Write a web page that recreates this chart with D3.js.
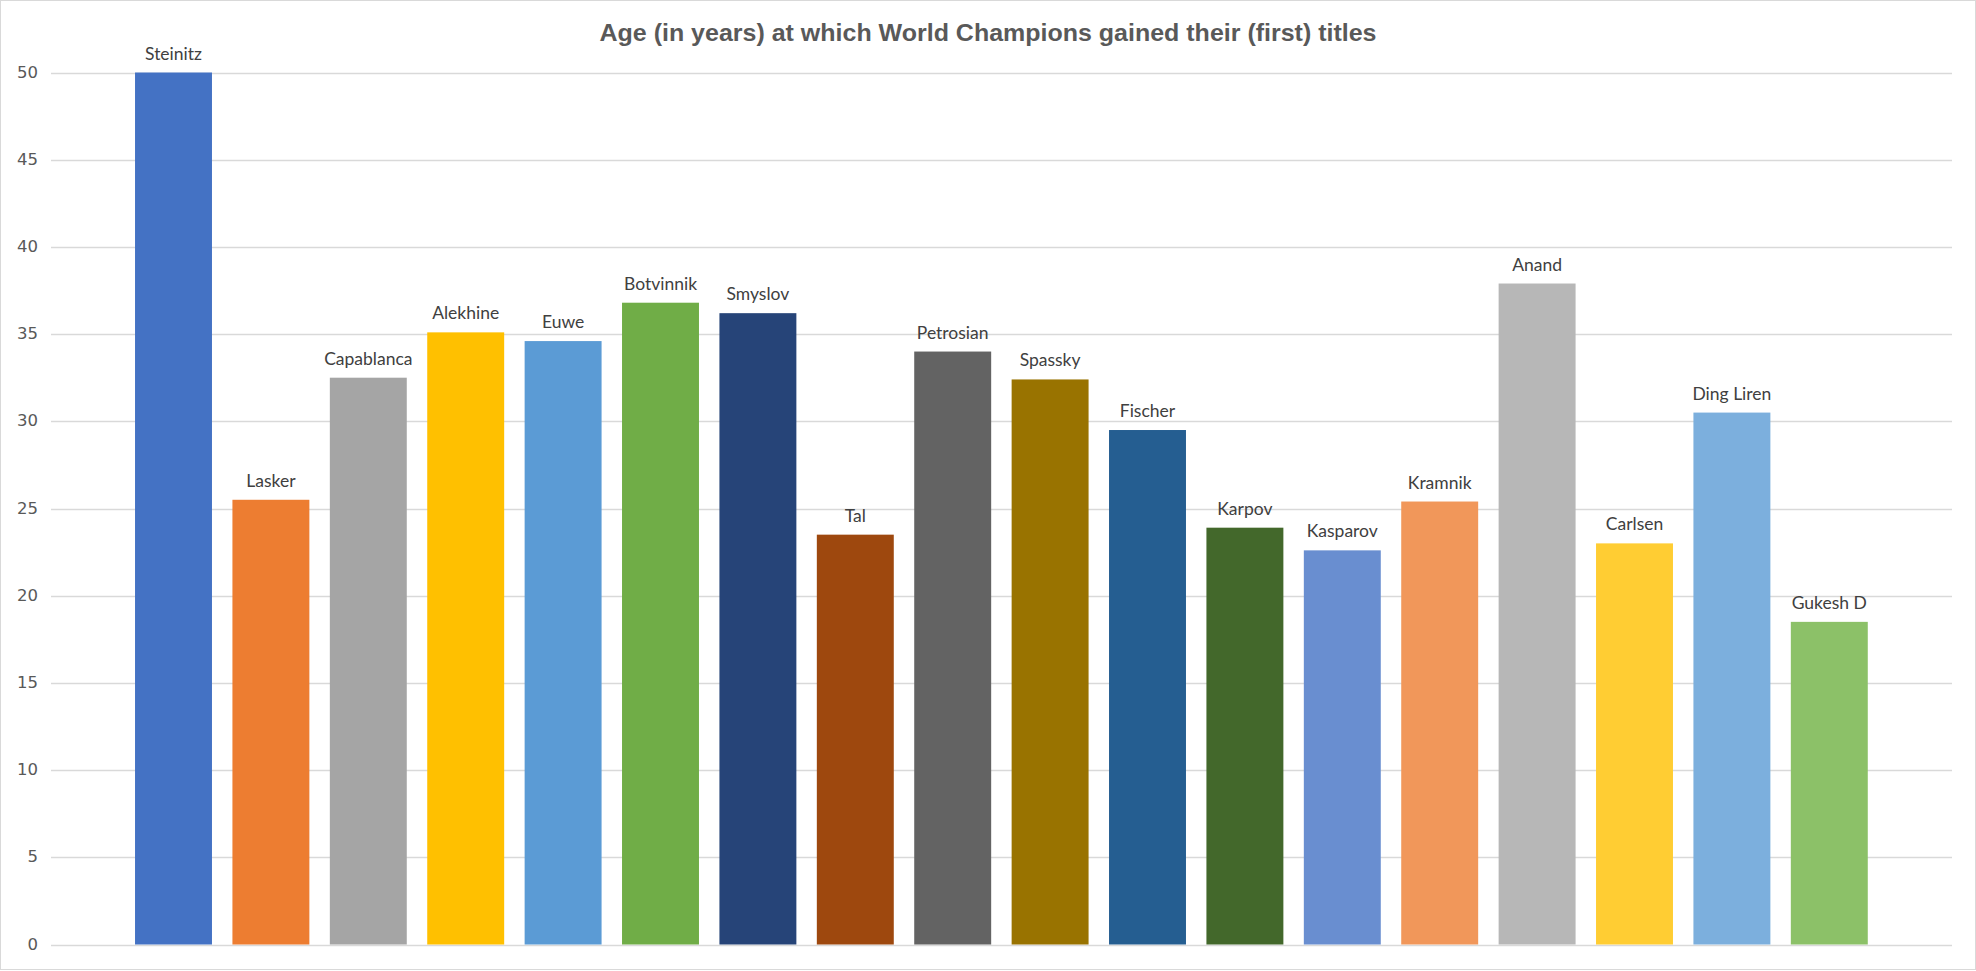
<!DOCTYPE html>
<html>
    <head>
        <meta charset="UTF-8"/>
        <style>
            body { margin: 0; background: #fff; }
        </style>
    </head>
    <body>
        <svg width="1976" height="971"></svg>
        <script src="https://d3js.org/d3.v7.min.js" type="text/javascript"></script>
        <script>
            let champions = ["Steinitz", "Lasker", "Capablanca", "Alekhine", "Euwe", "Botvinnik", "Smyslov", "Tal",
                "Petrosian", "Spassky", "Fischer", "Karpov", "Kasparov", "Kramnik", "Anand", "Carlsen", "Ding Liren", "Gukesh D"];
            let ages = [50, 25.5, 32.5, 35.1, 34.6, 36.8, 36.2, 23.5, 34.0, 32.4, 29.5, 23.9, 22.6, 25.4, 37.9, 23.0, 30.5, 18.5];
            let colors = ["#4472C4", "#ED7D31", "#A5A5A5", "#FFC000", "#5B9BD5", "#70AD47", "#264478", "#9E480E",
                "#636363", "#997300", "#255E91", "#43682B", "#698ED0", "#F1975A", "#B7B7B7", "#FFCD33", "#7CAFDD", "#8CC168"];
            let yTicks = [0, 5, 10, 15, 20, 25, 30, 35, 40, 45, 50];
            let title = "Age (in years) at which World Champions gained their (first) titles";

            let svg = d3.select("svg");

            // outer chart border
            svg.append("rect")
                .attr("x", 0.5).attr("y", 0.5)
                .attr("width", 1975).attr("height", 969)
                .attr("fill", "#fff")
                .attr("stroke", "#d9d9d9");

            let x = d3.scaleBand()
                .domain(champions)
                .range([124.8, 1878])
                .paddingInner(0.21)
                .paddingOuter(0.105);
            let y = d3.scaleLinear()
                .domain([0, 50])
                .range([944.5, 72.5]);

            // gridlines
            svg.append("g")
                .selectAll("line")
                .data(yTicks)
                .enter()
                .append("line")
                .attr("x1", 51).attr("x2", 1952)
                .attr("y1", function(d) { return Math.round(y(d)) + 0.5; })
                .attr("y2", function(d) { return Math.round(y(d)) + 0.5; })
                .attr("stroke", "#d9d9d9")
                .attr("stroke-width", 1.3);

            // y tick labels
            svg.append("g")
                .selectAll("text")
                .data(yTicks)
                .enter()
                .append("text")
                .attr("x", 38)
                .attr("y", function(d) { return y(d) + 5; })
                .attr("text-anchor", "end")
                .attr("font-family", "DejaVu Sans")
                .attr("font-size", 16.5)
                .attr("fill", "#595959")
                .text(function(d) { return d; });

            // bar labels
            svg.append("g")
                .selectAll("text")
                .data(ages)
                .enter()
                .append("text")
                .attr("x", function(d, i) { return x(champions[i]) + x.bandwidth() / 2; })
                .attr("y", function(d) { return y(d) - 13; })
                .attr("text-anchor", "middle")
                .attr("font-family", "Lato")
                .attr("font-size", 17.5)
                .attr("fill", "#404040")
                .text(function(d, i) { return champions[i]; });

            // bars
            svg.append("g")
                .selectAll("rect")
                .data(ages)
                .enter()
                .append("rect")
                .attr("x", function(d, i) { return x(champions[i]); })
                .attr("y", function(d) { return y(d); })
                .attr("width", x.bandwidth())
                .attr("height", function(d) { return y(0) - y(d); })
                .attr("fill", function(d, i) { return colors[i]; });

            // title
            svg.append("text")
                .attr("x", 988)
                .attr("y", 41)
                .attr("text-anchor", "middle")
                .attr("font-family", "Liberation Sans")
                .attr("font-weight", "bold")
                .attr("font-size", 24)
                .attr("fill", "#595959")
                .attr("textLength", 777)
                .attr("lengthAdjust", "spacingAndGlyphs")
                .text(title);
        </script>
    </body>
</html>
